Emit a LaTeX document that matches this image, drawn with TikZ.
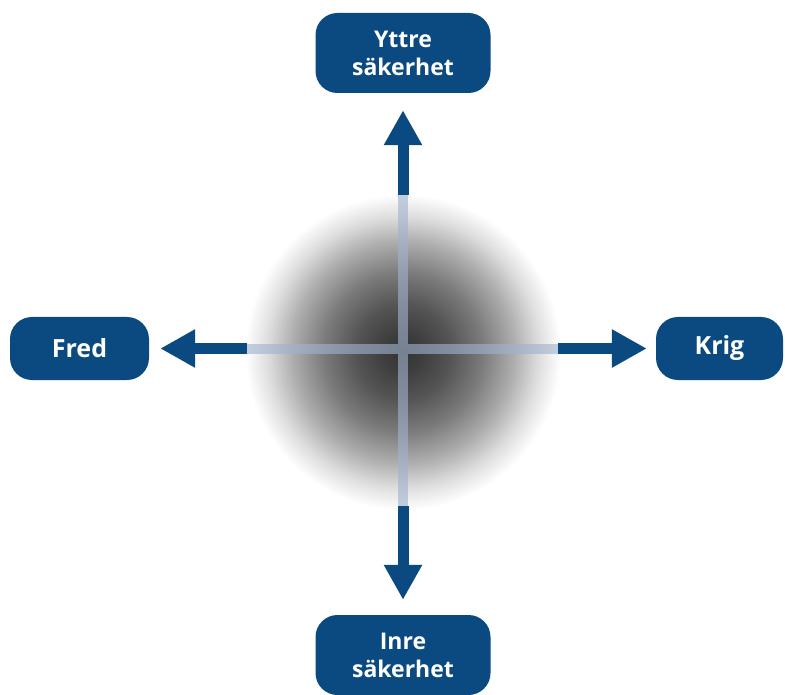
\documentclass[tikz,border=0pt]{standalone}
\usepackage{fontspec}
\setsansfont{Open Sans}
\usetikzlibrary{arrows.meta}
\definecolor{navy}{HTML}{0B4A80}
\definecolor{barblue}{HTML}{A0B2CE}
\pgfdeclareradialshading{glow}{\pgfpoint{0bp}{0bp}}{%
  color(0bp)=(black!80);
  color(3bp)=(black!76);
  color(7.5bp)=(black!67);
  color(12.5bp)=(black!52);
  color(17.5bp)=(black!32);
  color(21.5bp)=(black!13);
  color(25bp)=(white);
  color(50bp)=(white)}
\begin{document}
\begin{tikzpicture}[x=1pt,y=-1pt,
  box/.style={fill=navy, rounded corners=22pt, text=white,
    font=\sffamily\bfseries, align=center, inner sep=0pt},
  bigbox/.style={box, minimum width=175pt, minimum height=80pt,
    font=\sffamily\bfseries\fontsize{23}{28}\selectfont},
  sidebox/.style={box, minimum height=63pt,
    font=\sffamily\bfseries\fontsize{25}{30}\selectfont},
  arr/.style={draw=navy, line width=11pt, -{Triangle[width=36pt,length=35pt]}},
  bar/.style={draw=barblue, opacity=0.62, line width=10pt}]
\useasboundingbox (0,0) rectangle (785,695);
% shaded disc
\shade[shading=glow] (403,352) circle[radius=158];
% nodes
\node[bigbox] (top) at (403,53) {Yttre\\säkerhet};
\node[bigbox] (bot) at (403,655) {Inre\\säkerhet};
\node[sidebox, minimum width=139pt] (fred) at (79.5,348.5) {Fred};
\node[sidebox, minimum width=127pt] (krig) at (719.5,348.5) {Krig};
% shaft starts
\coordinate (ct) at (403,195);
\coordinate (cb) at (403,506);
\coordinate (cl) at (247,348.5);
\coordinate (cr) at (558,348.5);
% light cross
\draw[bar] (ct) -- (cb) (cl) -- (cr);
% arrows
\draw[arr, shorten >=17pt] (ct) -- (top);
\draw[arr, shorten >=15pt] (cb) -- (bot);
\draw[arr, shorten >=11pt] (cl) -- (fred);
\draw[arr, shorten >=9pt] (cr) -- (krig);
\end{tikzpicture}
\end{document}
